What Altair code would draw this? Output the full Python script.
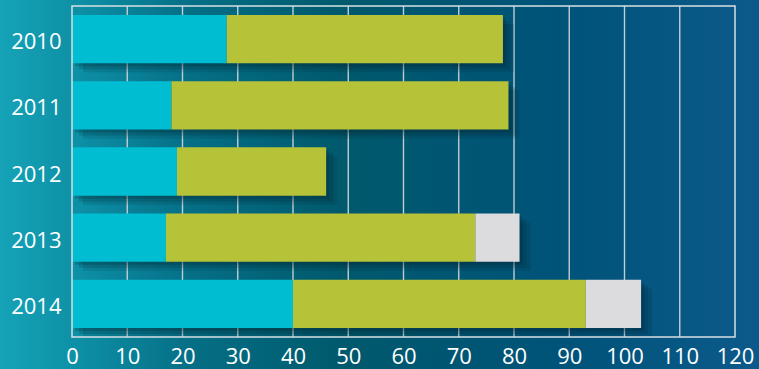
import altair as alt
import pandas as pd

# Yearly totals split into three components
years = ["2010", "2011", "2012", "2013", "2014"]
cyan_vals = [28, 18, 19, 17, 40]
green_vals = [50, 61, 27, 56, 53]
grey_vals = [0, 0, 0, 8, 10]

series_names = ["A", "B", "C"]
series_colors = ["#00BDD1", "#B6C237", "#DCDCDF"]
x_ticks = list(range(0, 130, 10))
grid_vals = list(range(10, 120, 10))

W, H = 663, 331
FONT = "Open Sans"

rows = []
for i, y in enumerate(years):
    for j, (name, vals) in enumerate(zip(series_names, [cyan_vals, green_vals, grey_vals])):
        rows.append({"year": y, "series": name, "value": vals[i], "order": j})
df = pd.DataFrame(rows)

totals = pd.DataFrame({
    "year": years,
    "total": [c + g + r for c, g, r in zip(cyan_vals, green_vals, grey_vals)],
})
grid_df = pd.DataFrame({"v": grid_vals})

x_scale = alt.Scale(domain=[0, 120], nice=False, zero=True)
y_scale = alt.Scale(domain=years, paddingInner=0.27, paddingOuter=0.135)

# Backdrop spanning the whole canvas
backdrop = alt.Chart(pd.DataFrame({"k": [0]})).mark_rect(
    clip=False,
    color=alt.Gradient(
        gradient="linear", x1=0, x2=1, y1=0, y2=0,
        stops=[
            alt.GradientStop(offset=0.0, color="#16A3B7"),
            alt.GradientStop(offset=0.1, color="#0D90A6"),
            alt.GradientStop(offset=0.25, color="#056F86"),
            alt.GradientStop(offset=0.45, color="#00596C"),
            alt.GradientStop(offset=0.75, color="#005379"),
            alt.GradientStop(offset=1.0, color="#0C5A8B"),
        ],
    ),
).encode(
    x=alt.value(-72), x2=alt.value(759 - 72),
    y=alt.value(-6), y2=alt.value(369 - 6),
)

grid = alt.Chart(grid_df).mark_rule(color="#CAD4D9", strokeWidth=1.4, opacity=0.95).encode(
    x=alt.X("v:Q", scale=x_scale),
    y=alt.value(0), y2=alt.value(H),
)

frame = alt.Chart(pd.DataFrame({"k": [0]})).mark_rect(
    fill="transparent", stroke="#D8E0E4", strokeWidth=1.5, clip=False
).encode(
    x=alt.value(0), x2=alt.value(W), y=alt.value(0), y2=alt.value(H),
)

def shadow(dx, dy, op):
    return alt.Chart(totals).mark_bar(
        color="#001C26", opacity=op, xOffset=dx, yOffset=dy
    ).encode(
        x=alt.X("total:Q", scale=x_scale),
        y=alt.Y("year:N", scale=y_scale),
    )

shadows = [shadow(3, 3, 0.2), shadow(7, 6, 0.16), shadow(11, 9, 0.12)]

bars = alt.Chart(df).mark_bar().encode(
    x=alt.X(
        "value:Q", stack="zero", scale=x_scale,
        axis=alt.Axis(
            values=x_ticks, title=None, grid=False, domain=False, ticks=False,
            labelColor="white", labelFont=FONT, labelFontSize=22, labelPadding=9,
            labelFlush=False, zindex=1,
        ),
    ),
    y=alt.Y(
        "year:N", scale=y_scale, sort=years,
        axis=alt.Axis(
            title=None, grid=False, domain=False, ticks=False,
            labelColor="white", labelFont=FONT, labelFontSize=22, labelPadding=11,
            labelOffset=3, zindex=1,
        ),
    ),
    color=alt.Color(
        "series:N",
        scale=alt.Scale(domain=series_names, range=series_colors),
        legend=None,
    ),
    order=alt.Order("order:Q"),
)

chart = alt.layer(backdrop, grid, *shadows, bars, frame).properties(
    width=W, height=H,
    padding={"left": 72, "top": 6, "right": 24, "bottom": 32},
    autosize=alt.AutoSizeParams(type="none"),
).configure_view(stroke=None)

chart.save("out.html", embed_options={"renderer": "svg", "actions": False})
